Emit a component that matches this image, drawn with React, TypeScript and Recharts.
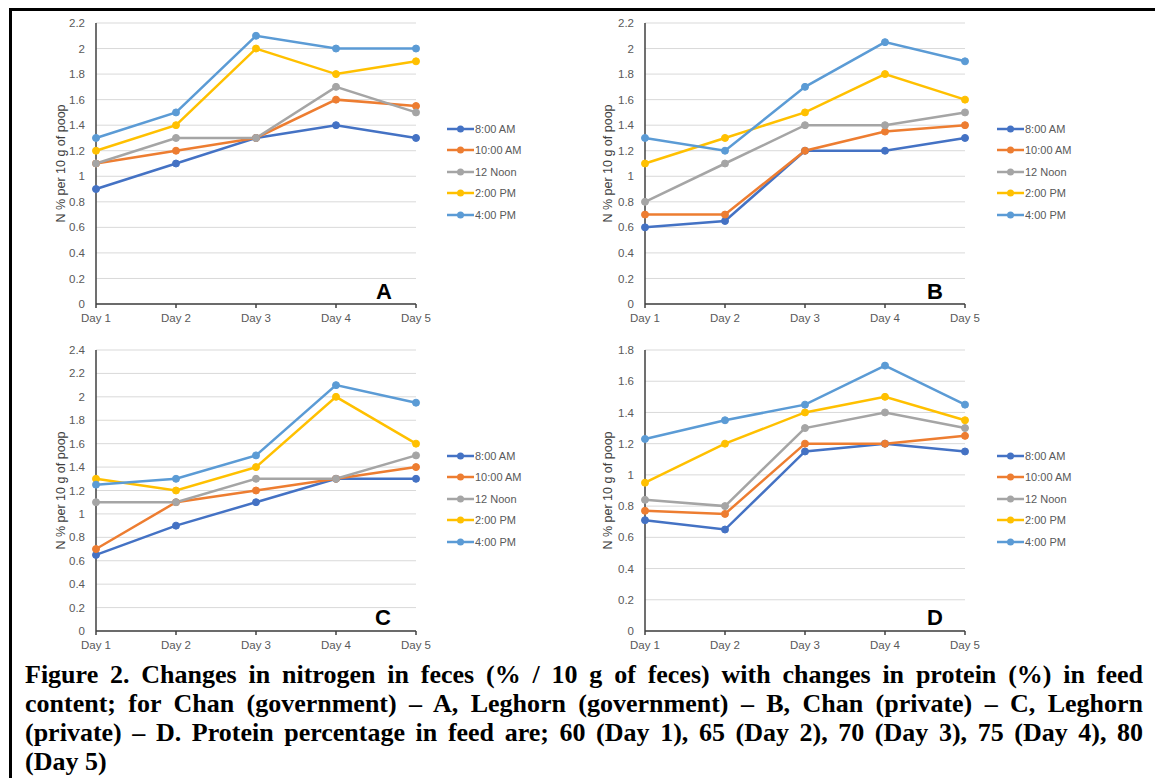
import { FC } from 'react';
import {
  LineChart,
  Line,
  XAxis,
  YAxis,
  CartesianGrid,
  Legend,
} from 'recharts';

const days = ['Day 1', 'Day 2', 'Day 3', 'Day 4', 'Day 5'];
const seriesNames = ['8:00 AM', '10:00 AM', '12 Noon', '2:00 PM', '4:00 PM'];
const seriesColors = ['#4472C4', '#ED7D31', '#A5A5A5', '#FFC000', '#5B9BD5'];

// Chan (government)
const chanGov = [
  [0.9, 1.1, 1.3, 1.4, 1.3],
  [1.1, 1.2, 1.3, 1.6, 1.55],
  [1.1, 1.3, 1.3, 1.7, 1.5],
  [1.2, 1.4, 2.0, 1.8, 1.9],
  [1.3, 1.5, 2.1, 2.0, 2.0],
];
// Leghorn (government)
const leghornGov = [
  [0.6, 0.65, 1.2, 1.2, 1.3],
  [0.7, 0.7, 1.2, 1.35, 1.4],
  [0.8, 1.1, 1.4, 1.4, 1.5],
  [1.1, 1.3, 1.5, 1.8, 1.6],
  [1.3, 1.2, 1.7, 2.05, 1.9],
];
// Chan (private)
const chanPriv = [
  [0.65, 0.9, 1.1, 1.3, 1.3],
  [0.7, 1.1, 1.2, 1.3, 1.4],
  [1.1, 1.1, 1.3, 1.3, 1.5],
  [1.3, 1.2, 1.4, 2.0, 1.6],
  [1.25, 1.3, 1.5, 2.1, 1.95],
];
// Leghorn (private)
const leghornPriv = [
  [0.71, 0.65, 1.15, 1.2, 1.15],
  [0.77, 0.75, 1.2, 1.2, 1.25],
  [0.84, 0.8, 1.3, 1.4, 1.3],
  [0.95, 1.2, 1.4, 1.5, 1.35],
  [1.23, 1.35, 1.45, 1.7, 1.45],
];

const ticks22 = [0, 0.2, 0.4, 0.6, 0.8, 1, 1.2, 1.4, 1.6, 1.8, 2, 2.2];
const ticks24 = [0, 0.2, 0.4, 0.6, 0.8, 1, 1.2, 1.4, 1.6, 1.8, 2, 2.2, 2.4];
const ticks18 = [0, 0.2, 0.4, 0.6, 0.8, 1, 1.2, 1.4, 1.6, 1.8];

const yLabel = 'N % per 10 g of poop';
const captionLines = [
  'Figure 2. Changes in nitrogen in feces (% / 10 g of feces) with changes in protein (%) in feed',
  'content; for Chan (government) \u2013 A, Leghorn (government) \u2013 B, Chan (private) \u2013 C, Leghorn',
  '(private) \u2013 D. Protein percentage in feed are; 60 (Day 1), 65 (Day 2), 70 (Day 3), 75 (Day 4), 80',
  '(Day 5)',
];

const FONT = '"Liberation Sans", Arial, sans-serif';

const buildRows = (values: number[][]) =>
  days.map((day, i) => {
    const row: Record<string, string | number> = { day };
    values.forEach((s, k) => {
      row[`s${k}`] = s[i];
    });
    return row;
  });

// legend drawn in series order (Excel style: line with a dot)
const LegendContent = () => (
  <div style={{ fontFamily: FONT, fontSize: 11, color: '#595959' }}>
    {seriesNames.map((name, k) => (
      <div key={name} style={{ display: 'flex', alignItems: 'center', height: 21.5 }}>
        <svg width={27} height={10} style={{ display: 'block' }}>
          <line x1={0} y1={5} x2={27} y2={5} stroke={seriesColors[k]} strokeWidth={2.5} />
          <circle cx={13.5} cy={5} r={3.5} fill={seriesColors[k]} />
        </svg>
        <span style={{ marginLeft: 1, whiteSpace: 'nowrap' }}>{name}</span>
      </div>
    ))}
  </div>
);

interface PanelProps {
  values: number[][];
  ticks: number[];
  letter: string;
  left: number;
  top: number;
  marginTop: number;
  yWidth: number;
  labelOffset: number;
  legendLeft: number;
  legendTop: number;
  letterX: number;
  letterY: number;
}

const W = 578;
const H = 330;
const X_AXIS_H = 22;

const Panel: FC<PanelProps> = ({
  values,
  ticks,
  letter,
  left,
  top,
  marginTop,
  yWidth,
  labelOffset,
  legendLeft,
  legendTop,
  letterX,
  letterY,
}) => {
  const plotBottom = marginTop + 281;
  const plotRight = yWidth + 320;
  return (
    <div style={{ position: 'absolute', left, top, width: W, height: H }}>
      <LineChart
        width={W}
        height={H}
        data={buildRows(values)}
        margin={{
          top: marginTop,
          right: W - plotRight,
          bottom: H - plotBottom - X_AXIS_H,
          left: 0,
        }}
      >
        <CartesianGrid vertical={false} stroke="#d9d9d9" strokeWidth={1} />
        <XAxis
          dataKey="day"
          scale="point"
          height={X_AXIS_H}
          padding={{ left: 0, right: 0 }}
          axisLine={{ stroke: '#404040', strokeWidth: 1.5 }}
          tickLine={{ stroke: '#404040', strokeWidth: 1.5 }}
          tickSize={4}
          tickMargin={6}
          tick={{ fill: '#595959', fontSize: 11.5, fontFamily: FONT }}
        />
        <YAxis
          width={yWidth}
          domain={[0, ticks[ticks.length - 1]]}
          ticks={ticks}
          interval={0}
          axisLine={{ stroke: '#404040', strokeWidth: 1.5 }}
          tickLine={false}
          tickSize={0}
          tickMargin={11}
          tick={{ fill: '#595959', fontSize: 11.5, fontFamily: FONT }}
          label={{
            value: yLabel,
            angle: -90,
            position: 'insideLeft',
            offset: labelOffset,
            style: { textAnchor: 'middle', fill: '#404040', fontSize: 12.5, fontFamily: FONT },
          }}
        />
        <Legend
          layout="vertical"
          align="center"
          verticalAlign="middle"
          content={LegendContent}
          wrapperStyle={{ left: legendLeft, top: legendTop, width: 100 }}
        />
        {seriesNames.map((name, k) => (
          <Line
            key={name}
            type="linear"
            dataKey={`s${k}`}
            name={name}
            stroke={seriesColors[k]}
            strokeWidth={2.5}
            dot={{ r: 3.5, fill: seriesColors[k], stroke: seriesColors[k], strokeWidth: 1 }}
            isAnimationActive={false}
          />
        ))}
      </LineChart>
      <div
        style={{
          position: 'absolute',
          left: letterX,
          top: letterY,
          transform: 'translate(-50%, -50%)',
          fontFamily: FONT,
          fontWeight: 'bold',
          fontSize: 22,
          color: '#000',
        }}
      >
        {letter}
      </div>
    </div>
  );
};

const App: FC = () => {
  return (
    <div
      style={{
        position: 'absolute',
        left: 0,
        top: 0,
        width: 1155,
        height: 778,
        overflow: 'hidden',
        background: '#fff',
      }}
    >
      <div
        style={{
          position: 'absolute',
          left: 9,
          top: 8,
          width: 1300,
          height: 900,
          borderLeft: '3px solid #000',
          borderTop: '3px solid #000',
        }}
      />
      <Panel
        values={chanGov}
        ticks={ticks22}
        letter="A"
        left={0}
        top={0}
        marginTop={23}
        yWidth={96}
        labelOffset={61}
        legendLeft={447}
        legendTop={118}
        letterX={384}
        letterY={292}
      />
      <Panel
        values={leghornGov}
        ticks={ticks22}
        letter="B"
        left={578}
        top={0}
        marginTop={23}
        yWidth={67}
        labelOffset={30}
        legendLeft={419}
        legendTop={118}
        letterX={357}
        letterY={292}
      />
      <Panel
        values={chanPriv}
        ticks={ticks24}
        letter="C"
        left={0}
        top={330}
        marginTop={20}
        yWidth={96}
        labelOffset={61}
        legendLeft={447}
        legendTop={115}
        letterX={383}
        letterY={288}
      />
      <Panel
        values={leghornPriv}
        ticks={ticks18}
        letter="D"
        left={578}
        top={330}
        marginTop={20}
        yWidth={67}
        labelOffset={30}
        legendLeft={419}
        legendTop={115}
        letterX={357}
        letterY={288}
      />
      <div
        style={{
          position: 'absolute',
          left: 25,
          top: 660,
          width: 1118,
          fontFamily: '"Liberation Serif", "Times New Roman", serif',
          fontWeight: 'bold',
          fontSize: 26,
          lineHeight: '29px',
          color: '#000',
        }}
      >
        {captionLines.map((line, i) => (
          <div
            key={i}
            style={{
              textAlign: i < captionLines.length - 1 ? 'justify' : 'left',
              textAlignLast: i < captionLines.length - 1 ? 'justify' : 'left',
              whiteSpace: 'nowrap',
            }}
          >
            {line}
          </div>
        ))}
      </div>
    </div>
  );
};

export default App;
